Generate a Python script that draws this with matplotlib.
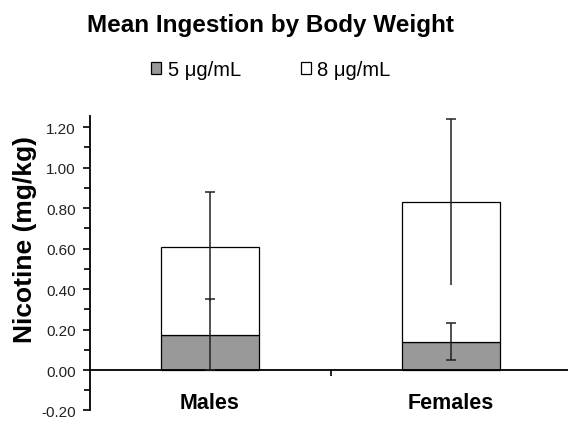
import matplotlib.pyplot as plt
from matplotlib.ticker import MultipleLocator

categories = ["Males", "Females"]
series_names = ["5 \u03bcg/mL", "8 \u03bcg/mL"]
low_dose = [0.175, 0.14]        # 5 ug/mL mean
low_err = [0.175, 0.09]
total_dose = [0.61, 0.83]       # top of stacked bar
total_err = [0.27, 0.41]
yticks = [-0.20, 0.00, 0.20, 0.40, 0.60, 0.80, 1.00, 1.20]

plt.rcParams["font.family"] = ["Liberation Sans", "DejaVu Sans"]

fig = plt.figure(figsize=(5.68, 4.27), dpi=100)
ax = fig.add_axes([0.1576, 0.0363, 0.8424, 0.6904])

x = list(range(len(categories)))
upper = [t - l for t, l in zip(total_dose, low_dose)]
ax.bar(x, low_dose, width=0.41, color="#999999", edgecolor="black", linewidth=0.9,
       label=series_names[0], zorder=2)
ax.bar(x, upper, bottom=low_dose, width=0.41, color="white", edgecolor="black",
       linewidth=0.9, label=series_names[1], zorder=2)

ax.errorbar(x, low_dose, yerr=low_err, fmt="none", ecolor="#222222", elinewidth=1.1,
            capsize=3.5, capthick=1.1, zorder=3)
_, caps, _ = ax.errorbar(x, total_dose, yerr=total_err, fmt="none", ecolor="#222222",
                         elinewidth=1.1, capsize=3.5, capthick=1.1, zorder=3)
caps[0].set_visible(False)

ax.set_xlim(-0.5, 1.4855)
ax.set_ylim(-0.2, 1.257)
ax.spines["top"].set_visible(False)
ax.spines["right"].set_visible(False)
ax.spines["bottom"].set_position(("data", 0))
ax.spines["left"].set_bounds(-0.2, 1.257)
for s in ("left", "bottom"):
    ax.spines[s].set_linewidth(1.3)

ax.set_xticks([0.5])
ax.set_xticklabels([])
ax.tick_params(axis="x", length=4, width=1.2)
ax.set_yticks(yticks)
ax.set_yticklabels([f"{v:.2f}" for v in yticks])
ax.yaxis.set_minor_locator(MultipleLocator(0.1))
ax.tick_params(axis="y", which="major", length=5, width=1.2, labelsize=11, pad=5,
               labelcolor="#222222")
ax.tick_params(axis="y", which="minor", length=4, width=1.2)

for xi, name in zip(x, categories):
    ax.text(xi, -0.16, name, ha="center", va="center", fontsize=15.5, fontweight="bold")

ax.set_ylabel("Nicotine (mg/kg)", fontsize=19, fontweight="bold")
ax.yaxis.set_label_coords(-0.11, 0.582)

fig.text(0.477, 0.94, "Mean Ingestion by Body Weight", ha="center", va="center",
         fontsize=17.5, fontweight="bold")
fig.legend(loc="center", bbox_to_anchor=(0.477, 0.835), ncol=2, frameon=False,
           fontsize=14.5, handlelength=0.5, handleheight=0.5, handletextpad=0.3,
           columnspacing=3.0)

fig.savefig("out.png", dpi=100)
